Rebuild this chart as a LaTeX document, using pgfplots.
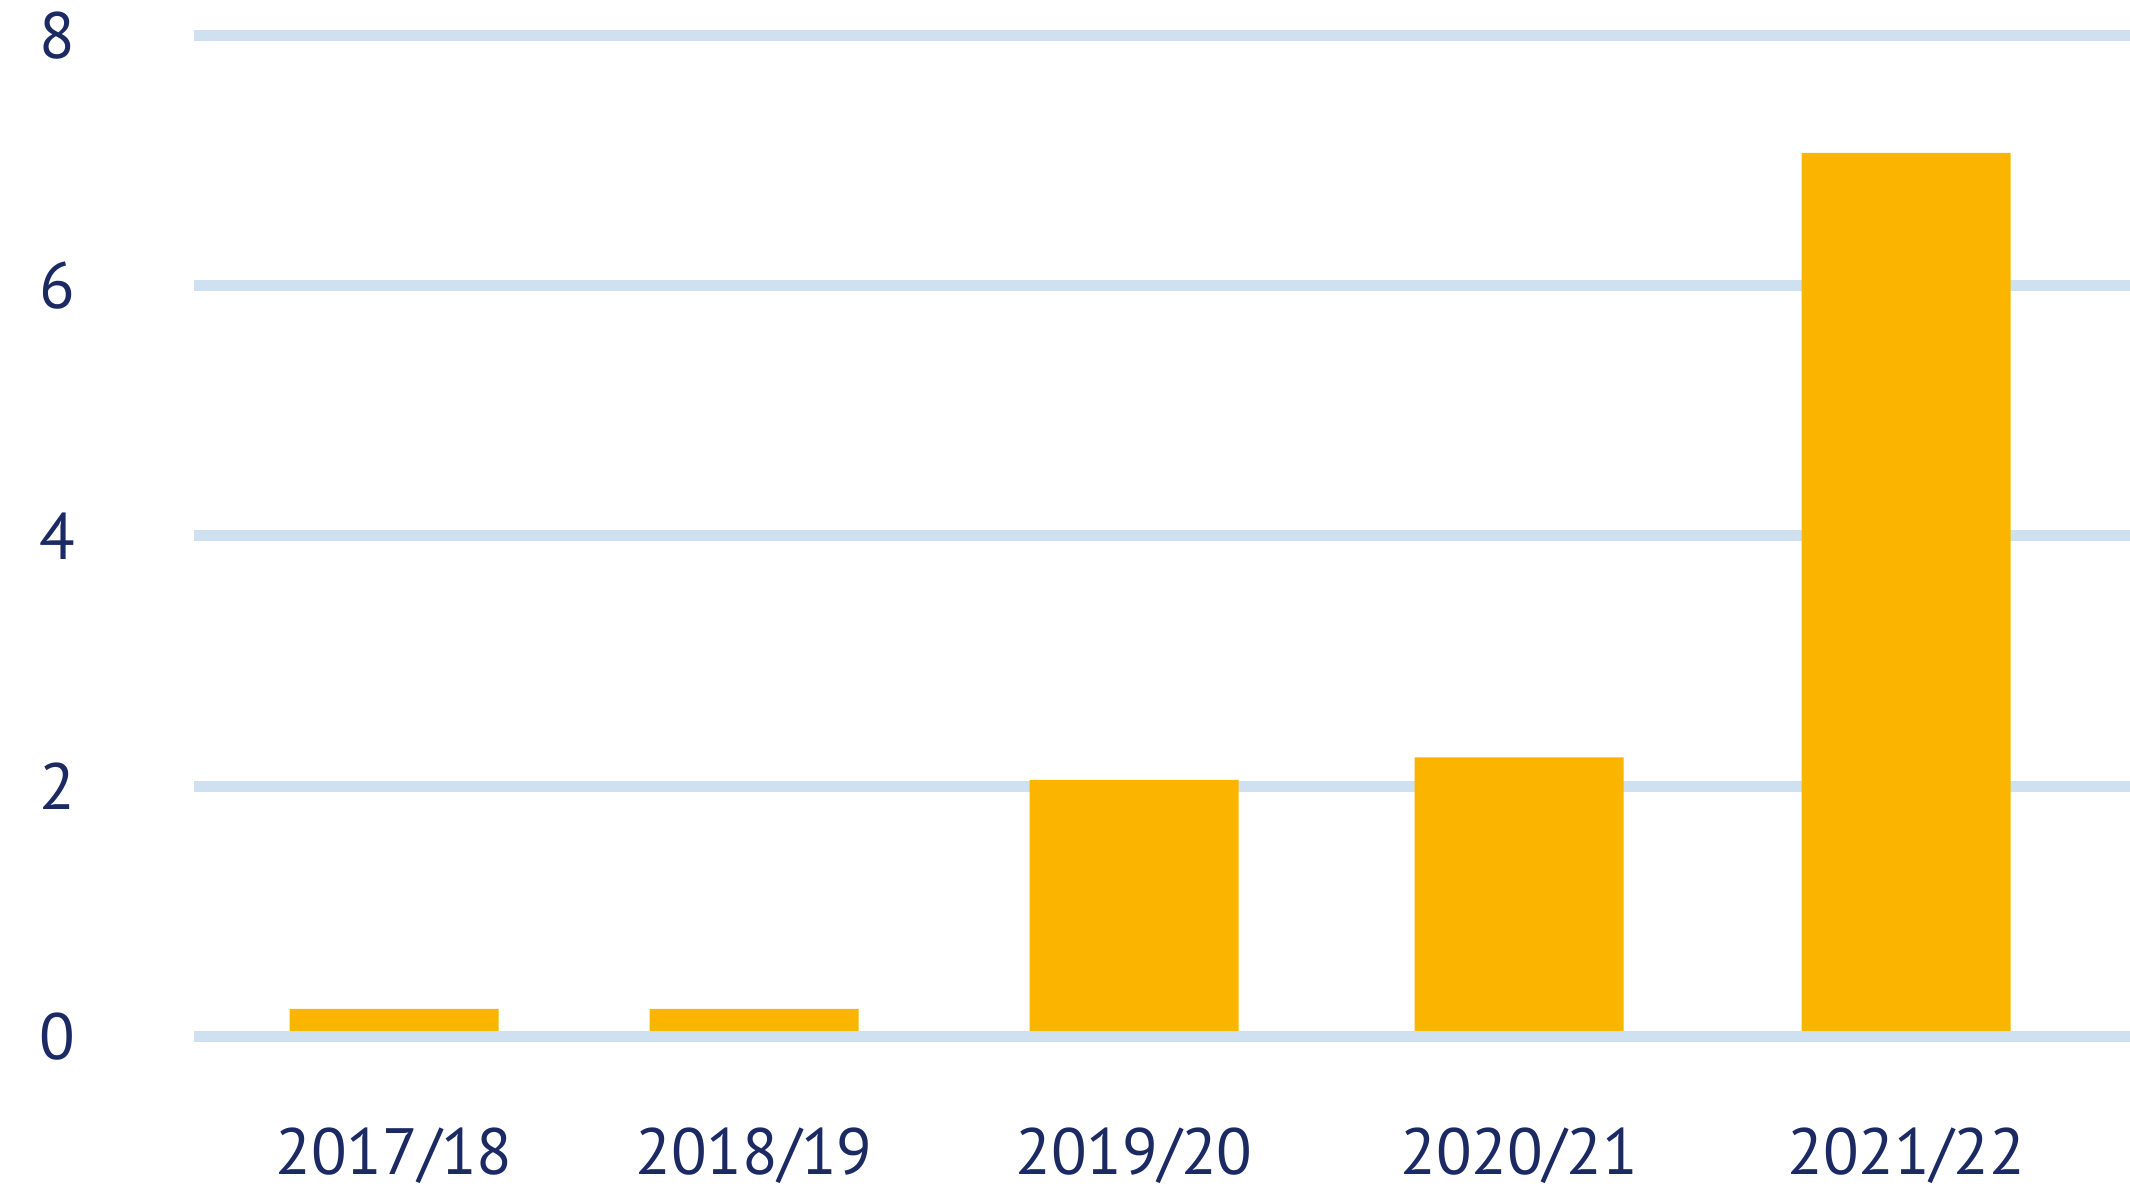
\documentclass[border=0pt]{standalone}
\usepackage{pgfplots}
\pgfplotsset{compat=1.18}
\usepackage{fontspec}
\setmainfont{PT Sans}
\definecolor{barc}{HTML}{FBB500}
\definecolor{gridc}{HTML}{CFE0F1}
\definecolor{txt}{HTML}{1B2A63}
\begin{document}
\begin{tikzpicture}
\useasboundingbox (0,0) rectangle (426pt,238pt);
\begin{axis}[
  at={(38.8pt,30.7pt)}, anchor=south west,
  scale only axis, width=387.2pt, height=200.24pt,
  xmin=194, xmax=2130, ymin=0, ymax=8,
  ytick={0,2,4,6,8},
  ymajorgrids, grid style={gridc, line width=2.2pt},
  axis line style={draw=none}, major tick length=0pt,
  xtick={394,754,1134,1519,1906},
  xticklabels={2017/18,2018/19,2019/20,2020/21,2021/22},
  ticklabel style={font=\fontsize{13.1}{16}\selectfont, text=txt},
  /pgf/number format/assume math mode=true,
  yticklabel style={anchor=center, xshift=-27.4pt},
  xticklabel style={anchor=center, yshift=-23.9pt},
  clip=false,
]
\addplot[ybar, bar width=209, fill=barc, draw=none] coordinates {
  (394,0.22) (754,0.22) (1134,2.05) (1519,2.23) (1906,7.06)};
\draw[gridc, line width=2.2pt] (axis cs:194,0) -- (axis cs:2130,0);
\end{axis}
\end{tikzpicture}
\end{document}
